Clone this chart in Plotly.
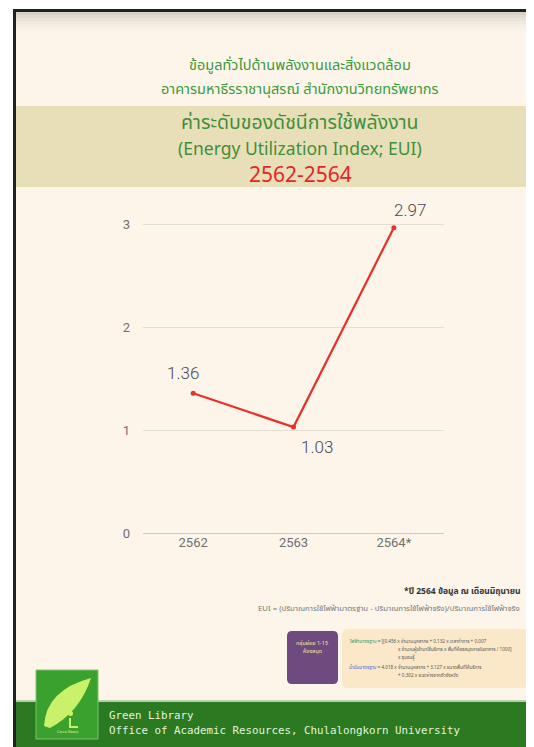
import plotly.graph_objects as go

# ---- data ----
years = ["2562", "2563", "2564*"]
eui = [1.36, 1.03, 2.97]
label_text = ["1.36", "1.03", "2.97"]
y_ticks = [0, 1, 2, 3]

title1 = "ข้อมูลทั่วไปด้านพลังงานและสิ่งแวดล้อม"
title2 = "อาคารมหาธีรราชานุสรณ์ สำนักงานวิทยทรัพยากร"
title3 = "ค่าระดับของดัชนีการใช้พลังงาน"
title4 = "(Energy Utilization Index; EUI)"
title5 = "2562-2564"
note1 = "*ปี 2564 ข้อมูล ณ เดือนมิถุนายน"
note2 = "EUI = (ปริมาณการใช้ไฟฟ้ามาตรฐาน - ปริมาณการใช้ไฟฟ้าจริง)/ปริมาณการใช้ไฟฟ้าจริง"
footer1 = "Green Library"
footer2 = "Office of Academic Resources, Chulalongkorn University"

# page body adds an 8px margin; work in reference-image pixels and offset
OX, OY = 8, 8
RW, RH = 534, 747
W, H = RW - OX, RH - OY
# plot area in reference pixels
PX0, PX1, PY0, PY1 = 143, 444, 204, 533
L, R, T, B = PX0 - OX, W - (PX1 - OX), PY0 - OY, H - (PY1 - OY)
PW, PH = PX1 - PX0, PY1 - PY0


def px(x):
    return (x - PX0) / PW


def py(y):
    return (PY1 - y) / PH


THAI = "Noto Sans Thai, Noto Sans, DejaVu Sans, sans-serif"
LATIN = "Noto Sans, sans-serif"
GREEN = "#3c9a3c"
CREAM = "#fdf5ea"

fig = go.Figure()
fig.add_trace(go.Scatter(
    x=years, y=eui, mode="lines+markers",
    line=dict(color="#e8302a", width=2.2),
    marker=dict(color="#e8302a", size=5),
    hoverinfo="x+y", showlegend=False, cliponaxis=False,
))

shapes = []
# page border
shapes.append(dict(type="rect", xref="paper", yref="paper", x0=px(13), x1=px(RW + 2), y0=py(RH + 2), y1=py(9),
                   fillcolor="#222222", line_width=0, layer="below"))
shapes.append(dict(type="rect", xref="paper", yref="paper", x0=px(16), x1=px(RW + 2), y0=py(RH + 2), y1=py(12),
                   fillcolor=CREAM, line_width=0, layer="below"))
# top shadow gradient
grad = ["#d9d2c7", "#e2dbd0", "#eae3d8", "#f0e9de", "#f5eee3", "#f9f1e6", "#fbf3e8"]
for i, c in enumerate(grad):
    shapes.append(dict(type="rect", xref="paper", yref="paper", x0=px(16), x1=px(RW + 2),
                       y0=py(12 + 3 * (i + 1)), y1=py(12 + 3 * i),
                       fillcolor=c, line_width=0, layer="below"))
# title band
shapes.append(dict(type="rect", xref="paper", yref="paper", x0=px(16), x1=px(RW + 2), y0=py(187), y1=py(106),
                   fillcolor="#e8dfb8", line_width=0, layer="below"))


def rounded(x0, y0, x1, y1, r):
    return (f"M {px(x0 + r)},{py(y0)} L {px(x1 - r)},{py(y0)} Q {px(x1)},{py(y0)} {px(x1)},{py(y0 + r)} "
            f"L {px(x1)},{py(y1 - r)} Q {px(x1)},{py(y1)} {px(x1 - r)},{py(y1)} L {px(x0 + r)},{py(y1)} "
            f"Q {px(x0)},{py(y1)} {px(x0)},{py(y1 - r)} L {px(x0)},{py(y0 + r)} Q {px(x0)},{py(y0)} {px(x0 + r)},{py(y0)} Z")


# formula boxes
shapes.append(dict(type="path", xref="paper", yref="paper", layer="below", line_width=0,
                   fillcolor="#6e4a7e", path=rounded(287, 631, 338, 684, 5)))
shapes.append(dict(type="path", xref="paper", yref="paper", layer="below", line_width=0,
                   fillcolor="#fbe8c9", path=rounded(342, 629, 528, 688, 6)))
# footer band
shapes.append(dict(type="rect", xref="paper", yref="paper", x0=px(16), x1=px(RW + 2), y0=py(RH + 2), y1=py(701),
                   fillcolor="#2b7a22", line_width=0, layer="below"))
shapes.append(dict(type="rect", xref="paper", yref="paper", x0=px(16), x1=px(RW + 2), y0=py(702), y1=py(700),
                   fillcolor="#b9cfae", line_width=0, layer="below"))
# logo
shapes.append(dict(type="rect", xref="paper", yref="paper", x0=px(36), x1=px(98), y0=py(739), y1=py(670),
                   fillcolor="#3aa02e", line=dict(color="#7cc46a", width=1), layer="above"))
shapes.append(dict(type="path", xref="paper", yref="paper", layer="above", line_width=0,
                   fillcolor="#c9f26a",
                   path=f"M {px(44)},{py(726)} Q {px(46)},{py(690)} {px(91)},{py(678)} "
                        f"Q {px(80)},{py(712)} {px(50)},{py(728)} Z"))
shapes.append(dict(type="path", xref="paper", yref="paper", layer="above", line=dict(color="#c9f26a", width=2),
                   path=f"M {px(70)},{py(718)} L {px(70)},{py(727)} L {px(78)},{py(727)}"))
shapes.append(dict(type="circle", xref="paper", yref="paper", layer="above", line_width=0, fillcolor="#c9f26a",
                   x0=px(68), x1=px(73), y0=py(716), y1=py(711)))

ann = []


def t(text, x, y, size, color, family=THAI, xanchor="center", weight=None):
    f = dict(size=size, color=color, family=family)
    if weight:
        f["weight"] = weight
    ann.append(dict(text=text, x=px(x), y=py(y), xref="paper", yref="paper", showarrow=False,
                    xanchor=xanchor, yanchor="middle", font=f))


t(title1, 300, 66, 14.5, GREEN)
t(title2, 300, 90, 14.5, GREEN)
t(title3, 300, 123, 19.5, "#3f8f3a")
t(title4, 300, 148, 17.5, "#3f8f3a", family=LATIN)
t(title5, 300, 174, 21, "#e8242a", family=LATIN)
t(note1, 522, 591, 8.5, "#333333", xanchor="right", weight="bold")
t(note2, 522, 609, 7.8, "#777777", xanchor="right")
t("กลุ่มย่อย 1-15", 312, 643, 5.5, "#f5e6a0")
t("ห้องสมุด", 312, 651, 5.5, "#f5e6a0")
t("<span style='color:#2a9a6a'>ไฟฟ้ามาตรฐาน</span> = [(0.456 x จำนวนบุคลากร + 0.132 x เวลาทำการ + 0.007",
  347, 641, 4.6, "#555555", xanchor="left")
t("x จำนวนผู้เข้ามาใช้บริการ x พื้นที่ห้องสมุดภายในอาคาร / 1000]", 396, 649, 4.6, "#555555", xanchor="left")
t("x ชุมชนรู้", 396, 657, 4.6, "#555555", xanchor="left")
t("<span style='color:#3a6ad0'>น้ำมันมาตรฐาน</span> = 4.018 x จำนวนบุคลากร + 3.127 x ขนาดพื้นที่ให้บริการ",
  347, 667, 4.6, "#555555", xanchor="left")
t("+ 0.302 x ระยะห่างจากตัวจังหวัด", 396, 675, 4.6, "#555555", xanchor="left")
t(footer1, 107, 715, 10.8, "#e6f2dc", family="DejaVu Sans Mono, monospace", xanchor="left")
t(footer2, 107, 730, 10.8, "#e6f2dc", family="DejaVu Sans Mono, monospace", xanchor="left")
t("Green library", 67, 731, 4, "#e8f0c0", family="Liberation Serif, serif")

# data labels (category index positions)
shifts = [(-10, 20), (23, -20), (16, 18)]
for i, (yv, lab, (dx, dy)) in enumerate(zip(eui, label_text, shifts)):
    ann.append(dict(text=lab, x=i, y=yv, xref="x", yref="y", showarrow=False,
                    xshift=dx, yshift=dy, font=dict(size=17, color="#4a4a4a", family="Roboto, sans-serif",
                                                    weight=300)))

fig.update_layout(
    width=W, height=H, margin=dict(l=L, r=R, t=T, b=B),
    paper_bgcolor="white", plot_bgcolor="rgba(0,0,0,0)",
    shapes=shapes, annotations=ann,
    xaxis=dict(type="category", range=[-0.5, 2.5], showgrid=False, zeroline=False, showline=False,
               ticks="", tickfont=dict(size=13, color="#707070", family="Roboto, sans-serif")),
    yaxis=dict(range=[0, 3.2], tickvals=y_ticks, showgrid=True, gridcolor="#e3ddd4", gridwidth=1,
               zeroline=True, zerolinecolor="#cfc9c0", zerolinewidth=1.2, showline=False, ticks="",
               ticklabelstandoff=12,
               tickfont=dict(size=13, color="#707070", family="Roboto, sans-serif")),
)

fig.write_html("out.html")
